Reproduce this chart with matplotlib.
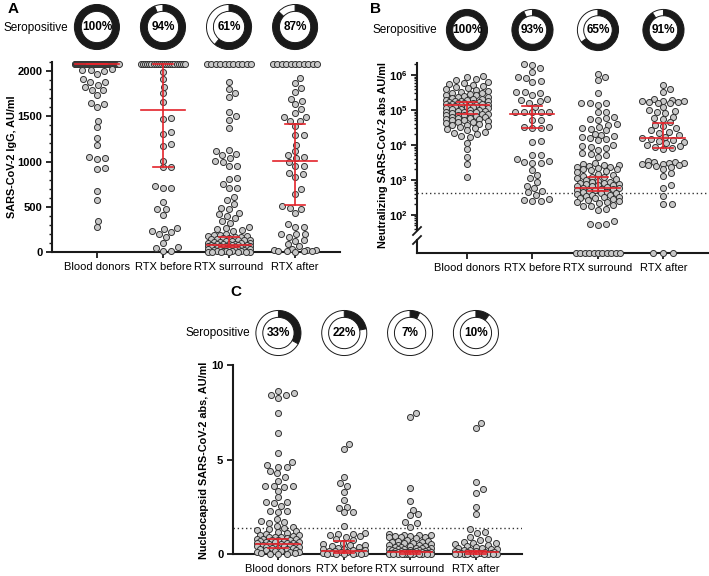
import numpy as np
import matplotlib.pyplot as plt
from matplotlib.lines import Line2D
from matplotlib.ticker import MultipleLocator, LogLocator, NullFormatter

plt.rcParams['font.family'] = ['Liberation Sans', 'DejaVu Sans']
plt.rcParams['mathtext.fontset'] = 'custom'
plt.rcParams['mathtext.rm'] = 'Liberation Sans'
plt.rcParams['mathtext.bf'] = 'Liberation Sans:bold'

W, H = 709, 576
groups = ["Blood donors", "RTX before", "RTX surround", "RTX after"]

# ---- Panel A: IgG, AU/ml (values at the upper limit kept as counts) ----
a_limit = 2080
a_at_limit = [90, 22, 11, 11]
a_donors = [2023, 2011, 2011, 2005, 1967, 1909, 1880, 1880, 1846, 1824, 1795, 1790, 1740,
            1645, 1633, 1601, 1451, 1385, 1260, 1187, 1050, 1040, 1025, 931, 920, 674, 571,
            344, 278]
a_before = [1993, 1909, 1828, 1762, 1663, 1480, 1473, 1326, 1304, 1198, 1176, 1011, 938, 938,
            730, 711, 711, 553, 473, 473, 410, 260, 253, 234, 216, 198, 161, 99, 58, 40, 14, 7]
a_surround = [1883, 1802, 1762, 1718, 1542, 1498, 1462, 1370, 1132, 1121, 1088, 1077, 1041,
              1004, 997, 956, 949, 813, 802, 747, 710, 703, 608, 575, 535, 491, 480, 436, 425,
              402, 381, 344, 326, 275, 268, 253, 242, 235,
              198, 192, 185, 181, 176, 168, 163, 158, 152, 149, 143, 137, 133, 128, 122, 117,
              112, 106, 101, 98, 95, 91, 89, 86, 83, 80, 79, 76, 73, 71, 69, 66, 63, 61, 59,
              57, 54, 52, 50, 48, 45, 43, 41, 38, 36, 33, 30, 28, 26, 23, 20, 18, 16, 13, 11,
              9, 7, 5, 4, 3, 2, 1, 0, 0]
a_after = [1920, 1865, 1810, 1766, 1692, 1670, 1634, 1582, 1535, 1487, 1487, 1443, 1443, 1388,
           1297, 1290, 1187, 1121, 1077, 1052, 1041, 997, 956, 949, 876, 857, 828, 692, 645,
           513, 491, 480, 436, 308, 278, 275, 198, 198, 198, 168, 132, 124, 88, 66, 30, 25,
           22, 18, 15, 12, 10, 8, 5]
a_med = [2080, 1570, 80, 1010]
a_q1 = [2080, 940, 50, 520]
a_q3 = [2080, 2080, 170, 1420]
a_pos = [100, 94, 61, 87]

# ---- Panel B: neutralizing abs, AU/ml (zeros kept as counts) ----
b_at_zero = [0, 0, 11, 3]
b_cutoff = 420
b_donors = [9.3e5, 8.8e5, 7.5e5, 7.0e5, 6.5e5, 6.0e5, 5.5e5, 5.2e5, 4.8e5, 4.5e5, 4.2e5,
            4.0e5, 3.8e5, 3.5e5, 3.3e5, 3.1e5, 3.0e5, 2.8e5, 2.7e5, 2.6e5, 2.5e5, 2.4e5,
            2.3e5, 2.2e5, 2.1e5, 2.0e5, 1.95e5, 1.9e5, 1.85e5, 1.8e5, 1.75e5, 1.7e5, 1.65e5,
            1.6e5, 1.58e5, 1.55e5, 1.5e5, 1.48e5, 1.45e5, 1.42e5, 1.4e5, 1.38e5, 1.35e5,
            1.3e5, 1.28e5, 1.25e5, 1.2e5, 1.18e5, 1.15e5, 1.12e5, 1.1e5, 1.05e5, 1.0e5,
            9.8e4, 9.5e4, 9.2e4, 9.0e4, 8.8e4, 8.5e4, 8.2e4, 8.0e4, 7.8e4, 7.6e4, 7.4e4,
            7.2e4, 7.0e4, 6.8e4, 6.5e4, 6.2e4, 6.0e4, 5.8e4, 5.6e4, 5.5e4, 5.3e4, 5.0e4,
            4.8e4, 4.6e4, 4.4e4, 4.2e4, 4.0e4, 3.8e4, 3.6e4, 3.4e4, 3.2e4, 3.0e4, 2.8e4,
            2.6e4, 2.4e4, 2.2e4, 2.0e4, 1.8e4, 1.7e4, 1.17e4, 7.6e3, 4.4e3, 2.8e3, 1.23e3]
b_before = [2.0e6, 1.9e6, 1.55e6, 1.25e6, 8.5e5, 8.0e5, 6.8e5, 6.2e5, 3.3e5, 3.2e5, 3.1e5,
            2.7e5, 2.05e5, 1.95e5, 1.75e5, 1.6e5, 1.25e5, 8.9e4, 8.9e4, 8.8e4, 8.7e4, 8.6e4,
            5.2e4, 5.0e4, 3.3e4, 3.3e4, 3.0e4, 3.0e4, 1.28e4, 1.23e4, 5.3e3, 5.2e3, 3.9e3,
            3.4e3, 3.2e3, 3.1e3, 3.0e3, 1.9e3, 1.4e3, 1.1e3, 850, 680, 580, 470, 440, 360,
            290, 275, 250, 250]
b_surround = [1.05e6, 8.5e5, 7.0e5, 3.0e5, 1.6e5, 1.6e5, 1.55e5, 1.4e5, 9.0e4, 8.5e4, 6.5e4,
              6.0e4, 5.5e4, 5.0e4, 4.0e4, 3.8e4, 3.2e4, 3.0e4, 2.8e4, 2.6e4, 2.0e4, 1.9e4,
              1.8e4, 1.7e4, 1.6e4, 1.5e4, 1.4e4, 1.0e4, 9.5e3, 8.5e3, 8.0e3, 7.0e3, 6.0e3,
              5.5e3, 5.0e3, 4.5e3, 3.0e3, 2.8e3, 2.7e3, 2.6e3, 2.5e3, 2.4e3, 2.3e3, 2.2e3,
              2.1e3, 2.0e3, 1.9e3, 1.8e3, 1.7e3, 1.5e3, 1.4e3, 1.3e3, 1.25e3, 1.2e3, 1.1e3,
              1.05e3, 1.0e3, 950, 900, 850, 820, 800, 780, 750, 720, 700, 680, 650, 620, 600,
              580, 560, 540, 520, 500, 480, 460, 440, 430, 420, 400, 380, 360, 340, 330, 320,
              310, 300, 280, 260, 250, 240, 230, 220, 190, 185, 180, 150, 140, 65, 55, 55, 51]
b_after = [5.2e5, 4.0e5, 3.2e5, 2.0e5, 1.9e5, 1.85e5, 1.8e5, 1.75e5, 1.7e5, 1.65e5, 1.6e5,
           1.55e5, 1.2e5, 1.0e5, 9.5e4, 9.0e4, 8.0e4, 6.5e4, 6.0e4, 5.5e4, 4.5e4, 3.8e4,
           3.5e4, 3.0e4, 2.6e4, 2.4e4, 2.2e4, 1.9e4, 1.7e4, 1.6e4, 1.5e4, 1.4e4, 1.3e4,
           1.2e4, 1.1e4, 1.0e4, 9.5e3, 9.0e3, 8.0e3, 7.9e3, 3.4e3, 3.3e3, 3.2e3, 3.1e3,
           3.0e3, 2.9e3, 2.8e3, 2.7e3, 2.6e3, 2.5e3, 2.4e3, 2.0e3, 1.6e3, 1.3e3, 720, 580,
           340, 210, 200]
b_med = [1.4e5, 7.7e4, 600, 1.55e4]
b_q1 = [7.5e4, 3.1e4, 480, 8.0e3]
b_q3 = [1.7e5, 1.3e5, 1.23e3, 4.3e4]
b_pos = [100, 93, 65, 91]

# ---- Panel C: nucleocapsid abs, AU/ml ----
c_cutoff = 1.38
c_donors = [8.64, 8.5, 8.41, 8.41, 8.27, 7.48, 6.42, 5.36, 4.85, 4.7, 4.6, 4.6, 4.4, 4.27,
            4.1, 3.88, 3.6, 3.6, 3.6, 3.56, 3.33, 3.0, 2.77, 2.72, 2.77, 2.54, 2.3, 2.27,
            2.24, 1.83, 1.74, 1.67, 1.62, 1.5, 1.45,
            1.35, 1.3, 1.25, 1.2, 1.15, 1.1, 1.05, 1.0, 0.98, 0.95, 0.92, 0.9, 0.88, 0.85,
            0.82, 0.8, 0.78, 0.76, 0.74, 0.72, 0.7, 0.68, 0.66, 0.64, 0.62, 0.6, 0.58, 0.56,
            0.54, 0.52, 0.5, 0.48, 0.46, 0.44, 0.42, 0.4, 0.38, 0.36, 0.34, 0.32, 0.3, 0.28,
            0.25, 0.22, 0.2, 0.18, 0.15, 0.12, 0.1, 0.08, 0.05, 0.03, 0.02, 0.01, 0.0]
c_before = [5.8, 5.55, 4.05, 3.75, 3.6, 3.3, 2.85, 2.5, 2.45, 2.2, 2.2, 1.5,
            1.1, 1.08, 1.05, 1.0, 0.95, 0.9, 0.8, 0.75, 0.6, 0.55, 0.5, 0.45, 0.4, 0.35,
            0.3, 0.28, 0.25, 0.22, 0.2, 0.18, 0.15, 0.12, 0.1, 0.08, 0.06, 0.05, 0.04, 0.03,
            0.02, 0.01, 0.0, 0.0, 0.0]
c_surround = [7.48, 7.27, 3.47, 2.82, 2.35, 2.1, 2.05, 1.7, 1.65, 1.45,
              1.05, 1.02, 1.0, 0.98, 0.95, 0.93, 0.92, 0.9, 0.88, 0.85, 0.75, 0.7, 0.68,
              0.65, 0.62, 0.6, 0.58, 0.55, 0.5, 0.48, 0.45, 0.42, 0.4, 0.38, 0.36, 0.34,
              0.32, 0.3, 0.28, 0.26, 0.25, 0.23, 0.22, 0.2, 0.19, 0.18, 0.16, 0.15, 0.14,
              0.13, 0.12, 0.11, 0.1, 0.09, 0.08, 0.08, 0.07, 0.06, 0.05, 0.05, 0.04, 0.04,
              0.03, 0.03, 0.02, 0.02, 0.02, 0.01, 0.01, 0.01, 0.0, 0.0, 0.0, 0.0, 0.0, 0.0]
c_after = [6.91, 6.65, 3.8, 3.45, 3.25, 2.5, 2.12,
           1.3, 1.15, 1.1, 0.9, 0.8, 0.75, 0.65, 0.6, 0.6, 0.55, 0.5, 0.4, 0.35, 0.3, 0.3,
           0.28, 0.25, 0.22, 0.2, 0.18, 0.15, 0.12, 0.1, 0.1, 0.08, 0.06, 0.05, 0.05, 0.04,
           0.03, 0.02, 0.02, 0.01, 0.01, 0.0, 0.0, 0.0, 0.0, 0.0, 0.0]
c_med = [0.51, 0.18, 0.08, 0.1]
c_q1 = [0.3, 0.04, 0.02, 0.02]
c_q3 = [0.78, 0.69, 0.15, 0.16]
c_pos = [33, 22, 7, 10]

RED = '#e3242b'
DARK = '#1a1a1a'
PT = dict(s=19, facecolor='#c8c8c8', edgecolor='#333333', linewidth=0.7, zorder=3,
          clip_on=False)

fig = plt.figure(figsize=(W / 100, H / 100), dpi=100)


def box(x0, y0, x1, y1):
    # pixel box (y measured from the top) -> figure coords
    return [x0 / W, 1 - y1 / H, (x1 - x0) / W, (y1 - y0) / H]


def swarm(ypix, fixed, dx=8.5, dy=6.0, maxw=21.0):
    # greedy beeswarm in pixels, elliptic spacing (wider across than down)
    k = dx / dy
    px = [p[0] for p in fixed]
    py = [p[1] * k for p in fixed]
    out = np.zeros(len(ypix))
    d = dx
    for i in np.argsort(ypix):
        y = ypix[i] * k
        near = [(a, b) for a, b in zip(px, py) if abs(b - y) < d]
        cands = [0.0]
        for a, b in near:
            s = np.sqrt(d * d - (b - y) ** 2)
            cands += [a + s, a - s]
        cands.sort(key=abs)
        best = None
        for c in cands:
            if abs(c) > maxw:
                continue
            if all((c - a) ** 2 + (y - b) ** 2 >= d * d - 1e-6 for a, b in near):
                best = c
                break
        if best is None:
            grid = np.linspace(-maxw, maxw, 15)
            best = max(grid, key=lambda c: min((c - a) ** 2 + (y - b) ** 2 for a, b in near))
        out[i] = best
        px.append(best)
        py.append(y)
    return out


def row_offsets(n):
    if n == 0:
        return np.array([])
    sp = min(10.0, 44.0 / max(n - 1, 1))
    return (np.arange(n) - (n - 1) / 2) * sp


def draw_group(ax, i, vals, row_ax=None, row_val=None, row_n=0):
    # row of identical values (limit / zero) first, then swarm the rest around it
    fixed = []
    if row_n:
        rax = row_ax if row_ax is not None else ax
        x0, y0 = rax.transData.transform((i, row_val))
        offs = row_offsets(row_n)
        rd = rax.transData.inverted().transform(np.column_stack([x0 + offs, np.full(row_n, y0)]))
        rax.scatter(rd[:, 0], rd[:, 1], **PT)
        if rax is ax:
            fixed = [(o, y0) for o in offs]
    vals = np.asarray(vals, float)
    disp = ax.transData.transform(np.column_stack([np.full(len(vals), i), vals]))
    disp[:, 0] += swarm(disp[:, 1], fixed)
    pts = ax.transData.inverted().transform(disp)
    ax.scatter(pts[:, 0], pts[:, 1], **PT)


def bars(ax, med, q1, q3, spacing_px):
    hw = 22 / spacing_px
    cw = 10 / spacing_px
    for i in range(4):
        kw = dict(color=RED, lw=1.2, zorder=5, clip_on=False)
        ax.plot([i - hw, i + hw], [med[i], med[i]], **kw)
        ax.plot([i, i], [q1[i], q3[i]], **kw)
        for q in (q1[i], q3[i]):
            ax.plot([i - cw, i + cw], [q, q], **kw)


def style(ax):
    for s in ['top', 'right']:
        ax.spines[s].set_visible(False)
    for s in ['left', 'bottom']:
        ax.spines[s].set_linewidth(1.5)
        ax.spines[s].set_color(DARK)
    ax.tick_params(which='major', length=4, width=1.3, color=DARK, labelsize=8, pad=3)
    ax.tick_params(which='minor', length=2.5, width=1.0, color=DARK)


def donuts(ax, pos, cy, dia, label_right, label_y):
    for i, p in enumerate(pos):
        cx = ax.transData.transform((i, 0))[0] * W / fig.bbox.width
        dax = fig.add_axes(box(cx - dia / 2, cy - dia / 2, cx + dia / 2, cy + dia / 2))
        parts = [p] if p == 100 else [p, 100 - p]
        dax.pie(parts, colors=[DARK, 'white'][:len(parts)], startangle=90, counterclock=False,
                radius=0.98, wedgeprops=dict(width=0.3, edgecolor=DARK, linewidth=0.7))
        dax.set_xlim(-1, 1)
        dax.set_ylim(-1, 1)
        dax.set_aspect('equal')
        dax.text(0, 0, f"{p}%", ha='center', va='center', fontsize=8.5, fontweight='bold')
    fig.text(label_right / W, 1 - label_y / H, "Seropositive", ha='right', va='center',
             fontsize=8.5)


# ---------------- Panel A ----------------
axA = fig.add_axes(box(52, 62, 340, 252))
axA.set_xlim(-0.68, 3.68)
axA.set_ylim(0, 2100)
style(axA)
axA.set_yticks([0, 500, 1000, 1500, 2000], ['0', '500', '1000', '1500', '2000'],
               fontweight='bold')
axA.yaxis.set_minor_locator(MultipleLocator(100))
axA.set_xticks(range(4), groups, fontsize=8)
for i, vals in enumerate([a_donors, a_before, a_surround, a_after]):
    draw_group(axA, i, vals, row_val=a_limit, row_n=a_at_limit[i])
bars(axA, a_med, a_q1, a_q3, 66)
fig.text(12 / W, 1 - 157 / H, "SARS-CoV-2 IgG, AU/ml", rotation=90, ha='center',
         va='center', fontsize=7.8, fontweight='bold')
fig.text(8 / W, 1 - 9 / H, "A", fontsize=11, fontweight='bold', ha='left', va='center')
donuts(axA, a_pos, 27, 46, 68, 28)

# ---------------- Panel B ----------------
axB = fig.add_axes(box(417, 63, 708, 230))
axB.set_xlim(-0.763, 3.68)
axB.set_yscale('log')
axB.set_ylim(37, 2.2e6)
style(axB)
axB.spines['bottom'].set_visible(False)
axB.set_xticks([])
axB.set_yticks([1e2, 1e3, 1e4, 1e5, 1e6],
               [r'$\mathbf{10^{%d}}$' % k for k in range(2, 7)])
axB.yaxis.set_minor_locator(LogLocator(base=10, subs=np.arange(2, 10), numticks=20))
axB.yaxis.set_minor_formatter(NullFormatter())
axB.axhline(b_cutoff, color='#333333', lw=1.0, ls=(0, (1, 2)), zorder=1)

axB0 = fig.add_axes(box(417, 240, 708, 253))
axB0.set_xlim(-0.763, 3.68)
axB0.set_ylim(0, 1)
style(axB0)
axB0.set_yticks([])
axB0.set_xticks(range(4), groups, fontsize=8)
axB0.patch.set_alpha(0)

for i, vals in enumerate([b_donors, b_before, b_surround, b_after]):
    draw_group(axB, i, vals, row_ax=axB0, row_val=0, row_n=b_at_zero[i])
bars(axB, b_med, b_q1, b_q3, 65.5)

for yb in (231, 240):
    fig.add_artist(Line2D([413 / W, 421 / W], [1 - (yb + 4) / H, 1 - (yb - 4) / H],
                          color=DARK, lw=1.3))
fig.text(383 / W, 1 - 155 / H, "Neutralizing SARS-CoV-2 abs AU/ml", rotation=90,
         ha='center', va='center', fontsize=7.8, fontweight='bold')
fig.text(370 / W, 1 - 9 / H, "B", fontsize=11, fontweight='bold', ha='left', va='center')
donuts(axB, b_pos, 30, 42, 437, 30)

# ---------------- Panel C ----------------
axC = fig.add_axes(box(233, 365, 522, 554))
axC.set_xlim(-0.69, 3.70)
axC.set_ylim(0, 10)
style(axC)
axC.set_yticks([0, 5, 10], ['0', '5', '10'], fontweight='bold')
axC.set_xticks(range(4), groups, fontsize=8)
axC.axhline(c_cutoff, color='#333333', lw=1.0, ls=(0, (1, 2)), zorder=1)
for i, vals in enumerate([c_donors, c_before, c_surround, c_after]):
    draw_group(axC, i, vals)
bars(axC, c_med, c_q1, c_q3, 65.7)
fig.text(204 / W, 1 - 460 / H, "Nucleocapsid SARS-CoV-2 abs, AU/ml", rotation=90,
         ha='center', va='center', fontsize=7.8, fontweight='bold')
fig.text(230 / W, 1 - 292 / H, "C", fontsize=11, fontweight='bold', ha='left', va='center')
donuts(axC, c_pos, 333, 46, 250, 333)

fig.savefig("out.png", dpi=100)
